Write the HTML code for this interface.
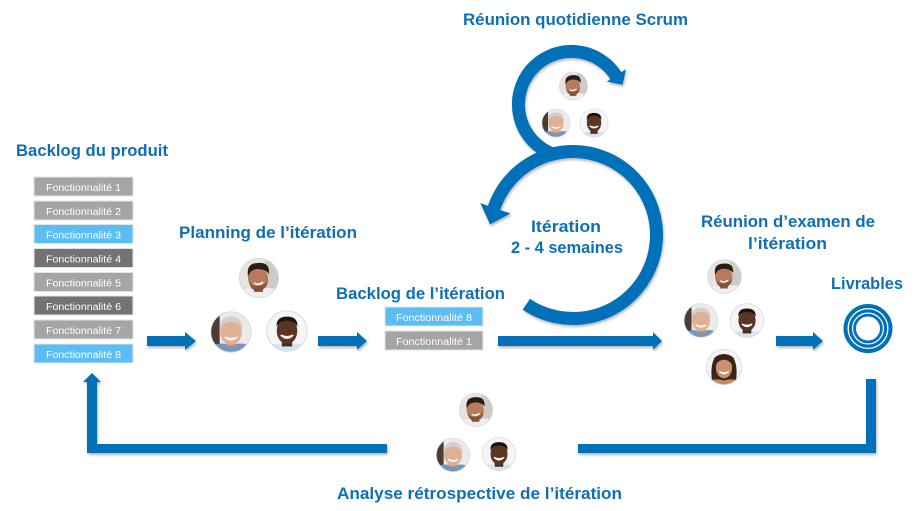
<!DOCTYPE html>
<html><head><meta charset="utf-8"><style>
html,body{margin:0;padding:0;background:#fff;}
body{width:920px;height:511px;overflow:hidden;}
svg{display:block;}
.t{font-family:"Liberation Sans",sans-serif;font-weight:bold;fill:#0F6FB6;font-size:17px;}
.b{font-family:"Liberation Sans",sans-serif;fill:#fff;font-size:10px;}
</style></head><body>
<svg width="920" height="511" viewBox="0 0 920 511" xmlns="http://www.w3.org/2000/svg" xmlns:xlink="http://www.w3.org/1999/xlink">
<defs>
  <filter id="sh" x="-10%" y="-30%" width="120%" height="160%">
    <feDropShadow dx="1" dy="2" stdDeviation="1.3" flood-color="#000" flood-opacity="0.28"/>
  </filter>
  <clipPath id="fc"><circle cx="0" cy="0" r="19.5"/></clipPath>
  <g id="manA">
    <circle r="20" fill="#fff"/>
    <g clip-path="url(#fc)">
      <rect x="-20" y="-20" width="40" height="40" fill="#e6e3e0"/>
      <rect x="6" y="-20" width="14" height="40" fill="#cfcac6"/>
      <path d="M-20,20 L-20,14 Q-10,8 -1,12 Q9,8 20,12 L20,20Z" fill="#f1efed"/>
      <rect x="-5" y="6" width="9" height="8" fill="#9a6248"/>
      <ellipse cx="-1" cy="0" rx="10" ry="12" fill="#b77a5a" transform="rotate(-12)"/>
      <path d="M-11,-2 Q-13,-15 -1,-15 Q11,-16 10,-4 Q7,-9 -1,-9 Q-8,-9 -11,-2Z" fill="#2a1b14"/>
      <path d="M-10,3 Q-9,13 -1,13 Q8,12 9,2 Q6,8 -1,8 Q-7,9 -10,3Z" fill="#6b4330" opacity="0.7"/>
      <path d="M-5,5 Q0,8 4,4" stroke="#fff" stroke-width="1.6" fill="none"/>
    </g>
    <circle r="19.6" fill="none" stroke="#d6d6d6" stroke-width="0.8"/>
  </g>
  <g id="manB">
    <circle r="20" fill="#fff"/>
    <g clip-path="url(#fc)">
      <rect x="-20" y="-20" width="40" height="40" fill="#ecebea"/>
      <rect x="-20" y="-20" width="9" height="40" fill="#4b3d35"/>
      <path d="M-20,20 L-20,14 Q-10,9 0,13 Q10,9 20,14 L20,20Z" fill="#7596c2"/>
      <rect x="-5" y="7" width="10" height="7" fill="#c8957a"/>
      <ellipse cx="0" cy="0" rx="10.5" ry="12.5" fill="#e0b094"/>
      <path d="M-11,-1 Q-12,-15 0,-15 Q12,-15 11,-1 Q10,-9 0,-10 Q-10,-9 -11,-1Z" fill="#d2d0ce"/>
      <path d="M-6,5 Q0,10 6,5 Q0,8 -6,5Z" fill="#fff" stroke="#fff" stroke-width="1.2"/>
    </g>
    <circle r="19.6" fill="none" stroke="#d6d6d6" stroke-width="0.8"/>
  </g>
  <g id="manC">
    <circle r="20" fill="#fff"/>
    <g clip-path="url(#fc)">
      <rect x="-20" y="-20" width="40" height="40" fill="#f5f5f5"/>
      <path d="M-20,20 L-20,15 Q-10,10 0,14 Q10,10 20,15 L20,20Z" fill="#d6e3f1"/>
      <rect x="-5" y="7" width="10" height="8" fill="#4a2a1b"/>
      <ellipse cx="0" cy="0" rx="10" ry="12.5" fill="#5c3522"/>
      <path d="M-10,-4 Q-11,-14 0,-14 Q11,-14 10,-4 Q8,-10 0,-10 Q-8,-10 -10,-4Z" fill="#1b120e"/>
      <path d="M-6,4 Q0,10 6,4 Q0,7 -6,4Z" fill="#fff" stroke="#fff" stroke-width="1.3"/>
    </g>
    <circle r="19.6" fill="none" stroke="#d6d6d6" stroke-width="0.8"/>
  </g>
  <g id="woman">
    <circle r="20" fill="#fff"/>
    <g clip-path="url(#fc)">
      <rect x="-20" y="-20" width="40" height="40" fill="#f3f3f3"/>
      <path d="M-13,18 Q-16,-2 -10,-11 Q0,-18 10,-11 Q16,-2 13,18Z" fill="#3a2419"/>
      <path d="M-20,20 L-20,16 Q-10,12 0,15 Q10,12 20,16 L20,20Z" fill="#c58a6b"/>
      <ellipse cx="0" cy="1" rx="9" ry="11.5" fill="#cc9070"/>
      <path d="M-9,-2 Q-8,-12 0,-12 Q8,-12 9,-2 Q6,-8 0,-8 Q-6,-8 -9,-2Z" fill="#3a2419"/>
      <path d="M-5,5 Q0,10 5,5 Q0,8 -5,5Z" fill="#fff" stroke="#fff" stroke-width="1.2"/>
    </g>
    <circle r="19.6" fill="none" stroke="#d6d6d6" stroke-width="0.8"/>
  </g>
</defs>

<!-- Titles -->
<text class="t" x="463" y="25" textLength="225" lengthAdjust="spacingAndGlyphs">Réunion quotidienne Scrum</text>
<text class="t" x="16" y="156" textLength="152" lengthAdjust="spacingAndGlyphs">Backlog du produit</text>
<text class="t" x="179" y="238" textLength="178" lengthAdjust="spacingAndGlyphs">Planning de l’itération</text>
<text class="t" x="336" y="299" textLength="169" lengthAdjust="spacingAndGlyphs">Backlog de l’itération</text>
<text class="t" x="531" y="232" textLength="70" lengthAdjust="spacingAndGlyphs">Itération</text>
<text class="t" x="511" y="253" textLength="112" lengthAdjust="spacingAndGlyphs">2 - 4 semaines</text>
<text class="t" x="701" y="227" textLength="174" lengthAdjust="spacingAndGlyphs">Réunion d’examen  de</text>
<text class="t" x="748" y="249" textLength="79" lengthAdjust="spacingAndGlyphs">l’itération</text>
<text class="t" x="831" y="289" textLength="72" lengthAdjust="spacingAndGlyphs">Livrables</text>
<text class="t" x="337" y="499" textLength="285" lengthAdjust="spacingAndGlyphs">Analyse rétrospective  de l’itération</text>

<!-- Product backlog boxes -->
<g stroke="#e4e4e4" stroke-width="1">
  <rect x="34" y="177" width="99" height="19" fill="#a5a5a5"/>
  <rect x="34" y="201" width="99" height="19" fill="#a5a5a5"/>
  <rect x="34" y="224.5" width="99" height="19" fill="#5cbdf4"/>
  <rect x="34" y="248.5" width="99" height="19" fill="#737373"/>
  <rect x="34" y="272.5" width="99" height="19" fill="#a5a5a5"/>
  <rect x="34" y="296" width="99" height="19" fill="#737373"/>
  <rect x="34" y="320" width="99" height="19" fill="#a5a5a5"/>
  <rect x="34" y="344" width="99" height="19" fill="#5cbdf4"/>
  <rect x="385" y="307" width="98" height="19" fill="#5cbdf4"/>
  <rect x="385" y="331" width="98" height="19" fill="#a5a5a5"/>
</g>
<g class="b" text-anchor="middle">
  <text x="83.5" y="190.8" textLength="75" lengthAdjust="spacingAndGlyphs">Fonctionnalité 1</text>
  <text x="83.5" y="214.8" textLength="75" lengthAdjust="spacingAndGlyphs">Fonctionnalité 2</text>
  <text x="83.5" y="238.3" textLength="75" lengthAdjust="spacingAndGlyphs">Fonctionnalité 3</text>
  <text x="83.5" y="262.3" textLength="75" lengthAdjust="spacingAndGlyphs">Fonctionnalité 4</text>
  <text x="83.5" y="286.3" textLength="75" lengthAdjust="spacingAndGlyphs">Fonctionnalité 5</text>
  <text x="83.5" y="309.8" textLength="75" lengthAdjust="spacingAndGlyphs">Fonctionnalité 6</text>
  <text x="83.5" y="333.8" textLength="75" lengthAdjust="spacingAndGlyphs">Fonctionnalité 7</text>
  <text x="83.5" y="357.8" textLength="75" lengthAdjust="spacingAndGlyphs">Fonctionnalité 8</text>
  <text x="434" y="320.8" textLength="76" lengthAdjust="spacingAndGlyphs">Fonctionnalité 8</text>
  <text x="434" y="344.8" textLength="76" lengthAdjust="spacingAndGlyphs">Fonctionnalité 1</text>
</g>

<!-- Arrows -->
<g fill="#0071B9" filter="url(#sh)">
  <polygon points="147,336 185,336 185,332 196,341 185,350 185,346 147,346"/>
  <polygon points="318,336 357,336 357,332 367,341 357,350 357,346 318,346"/>
  <polygon points="498,336 653,336 653,332 662,341 653,350 653,346 498,346"/>
  <polygon points="776,336 813,336 813,332 823,341 813,350 813,346 776,346"/>
  <polygon points="83,382 92,373 101,382 97,382 97,444 387,444 387,453 87,453 87,382"/>
  <polygon points="578,444 866,444 866,379 876,379 876,453 578,453"/>
</g>

<!-- Cycle rings -->
<g filter="url(#sh)">
  <path d="M551.65,153.6 A53,53 0 1 1 616.4,76.4" fill="none" stroke="#0071B9" stroke-width="13"/>
  <polygon points="606.7,81.6 626,69.1 622.6,84.8" fill="#0071B9"/>
  <path d="M526.3,304.2 A83.5,83.5 0 1 0 493.6,209.2" fill="none" stroke="#0071B9" stroke-width="13"/>
  <polygon points="510.6,213.5 480.3,203.1 490,224.4" fill="#0071B9"/>
</g>

<!-- Livrables target -->
<g fill="none" stroke="#0071B9">
  <circle cx="868" cy="328.5" r="22.5" stroke-width="4"/>
  <circle cx="868" cy="328.5" r="17.6" stroke-width="3.2"/>
  <circle cx="868" cy="328.5" r="13.4" stroke-width="2.8"/>
</g>

<!-- Faces: scrum -->
<use xlink:href="#manA" href="#manA" transform="translate(573.5,86) scale(0.72)"/>
<use xlink:href="#manB" href="#manB" transform="translate(556,123) scale(0.72)"/>
<use xlink:href="#manC" href="#manC" transform="translate(594,123) scale(0.72)"/>
<!-- Faces: planning -->
<use xlink:href="#manA" href="#manA" transform="translate(259,278) scale(1.0)"/>
<use xlink:href="#manB" href="#manB" transform="translate(231,332) scale(1.03)"/>
<use xlink:href="#manC" href="#manC" transform="translate(287,331) scale(1.03)"/>
<!-- Faces: review -->
<use xlink:href="#manA" href="#manA" transform="translate(724.5,276.5) scale(0.86)"/>
<use xlink:href="#manB" href="#manB" transform="translate(701,320.5) scale(0.86)"/>
<use xlink:href="#manC" href="#manC" transform="translate(747,320.5) scale(0.86)"/>
<use xlink:href="#woman" href="#woman" transform="translate(724,367) scale(0.9)"/>
<!-- Faces: retro -->
<use xlink:href="#manA" href="#manA" transform="translate(476,410) scale(0.85)"/>
<use xlink:href="#manB" href="#manB" transform="translate(453,455) scale(0.85)"/>
<use xlink:href="#manC" href="#manC" transform="translate(499,454) scale(0.85)"/>
</svg>
</body></html>
